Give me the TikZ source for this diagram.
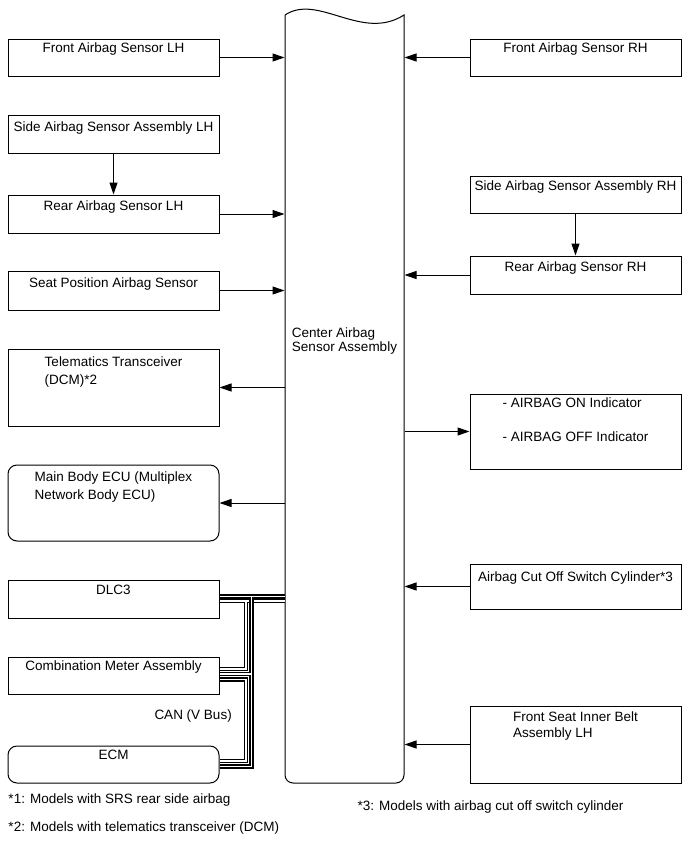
\documentclass[tikz,border=0pt]{standalone}
\usepackage{fontspec}
\setmainfont{Liberation Sans}
\usetikzlibrary{arrows.meta}
\newcommand{\twol}[3][0pt]{\begin{tabular}[t]{@{}l@{}}#2\\[#1]#3\end{tabular}}
\begin{document}
\begin{tikzpicture}[x=1pt,y=-1pt,
  line width=1pt,
  box/.style={draw, line width=1pt, inner sep=0pt, minimum width=211pt},
  rbox/.style={box, rounded corners=9pt},
  ghost/.style={inner sep=0pt, minimum width=119pt, minimum height=768pt},
  txt/.style={anchor=base, inner sep=0pt, font=\fontsize{13.5}{16}\selectfont},
  arr/.style={-{Triangle[length=12pt,width=8pt]}, line width=1pt},
  busk/.style={line width=4.2pt, black, line join=miter, line cap=butt},
  busw/.style={line width=1.5pt, white, line join=miter, line cap=butt}]
\useasboundingbox (0,0) rectangle (689,854);

% left column
\node[box, minimum height=37pt] (flh) at (113.5,57.5) {};
\node[box, minimum height=38pt] (slh) at (113.5,134) {};
\node[box, minimum height=38pt] (rlh) at (113.5,214) {};
\node[box, minimum height=39pt] (spos) at (113.5,290.5) {};
\node[box, minimum height=77pt] (tel) at (113.5,387.5) {};
\node[rbox, minimum height=76pt] (mb) at (113.5,503) {};
\node[box, minimum height=38pt] (dlc) at (113.5,599) {};
\node[box, minimum height=37pt] (cmb) at (113.5,675.5) {};
\node[rbox, minimum height=37pt] (ecm) at (113.5,764.5) {};

% right column
\node[box, minimum height=37pt] (frh) at (575.5,57.5) {};
\node[box, minimum height=37pt] (srh) at (575.5,194.5) {};
\node[box, minimum height=38pt] (rrh) at (575.5,275) {};
\node[box, minimum height=75pt] (ind) at (575.5,431.5) {};
\node[box, minimum height=45pt] (cut) at (575.5,586.5) {};
\node[box, minimum height=77pt] (fsb) at (575.5,744.5) {};

% center
\node[ghost] (cas) at (344.5,399) {};
\draw (285,15) .. controls (318,-7) and (362,42) .. (404,15)
  {[rounded corners=8pt] -- (404,783) -- (285,783) -- (285,15)};
\node[txt] (cas-t) at (344.5,337.3) {\twol[-1.6pt]{Center Airbag}{Sensor Assembly}};

% texts
\node[txt] (flh-t) at ([yshift=-14pt]flh.north) {Front Airbag Sensor LH};
\node[txt] (slh-t) at ([yshift=-16.5pt]slh.north) {Side Airbag Sensor Assembly LH};
\node[txt] (rlh-t) at ([yshift=-15.5pt]rlh.north) {Rear Airbag Sensor LH};
\node[txt] (spos-t) at ([yshift=-17pt]spos.north) {Seat Position Airbag Sensor};
\node[txt] (tel-t) at ([yshift=-17.7pt]tel.north) {\twol[2.5pt]{Telematics Transceiver}{(DCM)*2}};
\node[txt] (mb-t) at ([yshift=-17.3pt]mb.north) {\twol[1.7pt]{Main Body ECU (Multiplex}{Network Body ECU)}};
\node[txt] (dlc-t) at ([yshift=-15pt]dlc.north) {DLC3};
\node[txt] (cmb-t) at ([yshift=-14.4pt]cmb.north) {Combination Meter Assembly};
\node[txt] (ecm-t) at ([yshift=-14pt]ecm.north) {ECM};
\node[txt] (frh-t) at ([yshift=-14pt]frh.north) {Front Airbag Sensor RH};
\node[txt] (srh-t) at ([yshift=-14.7pt]srh.north) {Side Airbag Sensor Assembly RH};
\node[txt] (rrh-t) at ([yshift=-16pt]rrh.north) {Rear Airbag Sensor RH};
\node[txt] (ind-t) at ([yshift=-14.3pt]ind.north) {\twol[17.4pt]{- AIRBAG ON Indicator}{- AIRBAG OFF Indicator}};
\node[txt] (cut-t) at ([yshift=-17.5pt]cut.north) {Airbag Cut Off Switch Cylinder*3};
\node[txt] (fsb-t) at ([yshift=-15.5pt]fsb.north) {\twol{Front Seat Inner Belt}{Assembly LH}};
\node[txt, anchor=base west] (can-t) at (154,719.5) {CAN (V Bus)};

% notes
\node[txt, anchor=base west] (n1) at (8,803.5) {*1: Models with SRS rear side airbag};
\node[txt, anchor=base west] (n2) at (8,831.5) {*2: Models with telematics transceiver (DCM)};
\node[txt, anchor=base west] (n3) at (357,810.5) {*3: Models with airbag cut off switch cylinder};

% arrows
\draw[arr] (flh.east) -- (flh.east -| cas.west);
\draw[arr] (rlh.east) -- (rlh.east -| cas.west);
\draw[arr] (spos.east) -- (spos.east -| cas.west);
\draw[arr] (tel.east -| cas.west) -- (tel.east);
\draw[arr] (mb.east -| cas.west) -- (mb.east);
\draw[arr] (slh.south) -- (rlh.north);
\draw[arr] (frh.west) -- (frh.west -| cas.east);
\draw[arr] (rrh.west) -- (rrh.west -| cas.east);
\draw[arr] (ind.west -| cas.east) -- (ind.west);
\draw[arr] (cut.west) -- (cut.west -| cas.east);
\draw[arr] (fsb.west) -- (fsb.west -| cas.east);
\draw[arr] (srh.south) -- (rrh.north);

% CAN bus
\coordinate (a0) at (246,601);
\coordinate (a1) at (246,669);
\coordinate (a2) at (246,679.5);
\coordinate (a3) at (246,761);
\coordinate (b0) at (251.5,596.5);
\coordinate (bm) at (251.5,674.2);
\coordinate (b1) at (251.5,766.5);
\foreach \s in {busk,busw}{
  \draw[\s] (dlc.east |- a0) -- (cas.west |- a0);
  \draw[\s] (a0) -- (a1) -- (cmb.east |- a1);
  \draw[\s] (cmb.east |- a2) -- (a2) -- (a3) -- (ecm.east |- a3);
}
\foreach \s in {busk,busw}{
  \draw[\s] (dlc.east |- b0) -- (cas.west |- b0);
  \draw[\s] (b0) -- (b1) -- (ecm.east |- b1);
  \draw[\s] (bm) -- (cmb.east |- bm);
}
\end{tikzpicture}
\end{document}
